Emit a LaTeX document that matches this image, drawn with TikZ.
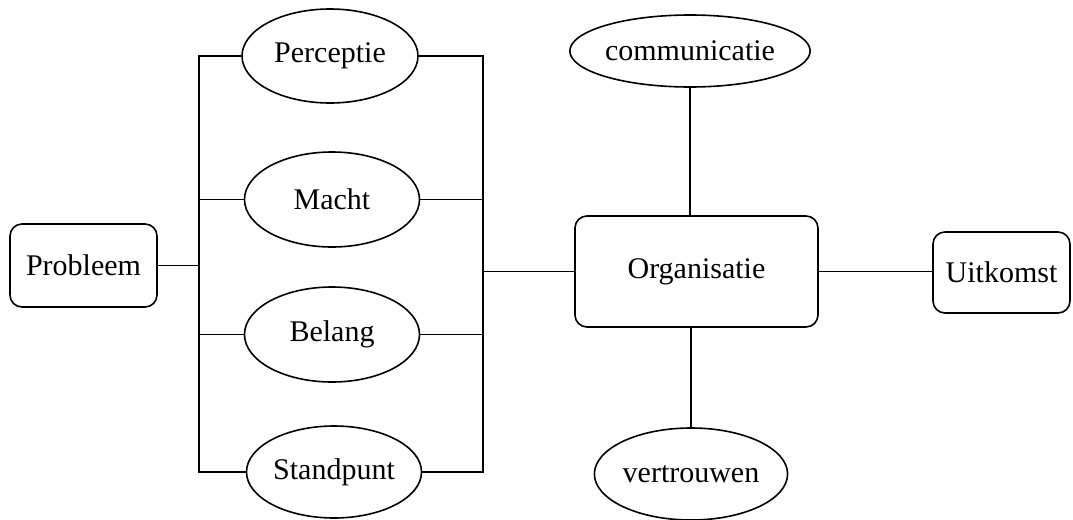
\documentclass[tikz,border=0pt]{standalone}
\usepackage{fontspec}
\setmainfont{Liberation Serif}
\usetikzlibrary{shapes.geometric}

\begin{document}
\begin{tikzpicture}[x=0.5pt, y=-0.5pt, line width=0.8pt,
    box/.style={draw, rounded corners=6pt, inner sep=0pt},
    factor/.style={draw, ellipse, inner sep=0pt},
    every node/.style={font=\fontsize{15}{18}\selectfont}]
            \useasboundingbox (0,0) rectangle (1073,520);

            % left side: the problem and its four factors
            \node[box, minimum width=73.5pt, minimum height=41.5pt] (prob) at (83.5,265.5) {Probleem};
            \node[factor, minimum width=88pt, minimum height=47pt] (perc) at (330,56) {Perceptie};
            \node[factor, minimum width=87.5pt, minimum height=47.5pt] (macht) at (332,199.5) {Macht};
            \node[factor, minimum width=87.5pt, minimum height=47.5pt] (belang) at (332,334.5) {Belang};
            \node[factor, minimum width=87.5pt, minimum height=46pt] (stand) at (334,472) {Standpunt};

            % right side
            \node[box, minimum width=121.5pt, minimum height=55.5pt] (org) at (696.5,271.5) {Organisatie};
            \node[factor, minimum width=112.5pt, minimum height=36pt] (comm) at (690,51) {communicatie};
            \node[factor, minimum width=87.5pt, minimum height=46pt] (vert) at (691,474) {vertrouwen};
            \node[box, minimum width=68.5pt, minimum height=40.5pt] (uit) at (1001.5,272.5) {Uitkomst};

            % the two buses
            \coordinate (lbus) at (199,0);
            \coordinate (rbus) at (483,0);

            \draw (perc.west) -- (perc.west -| lbus) -- (stand.west -| lbus) -- (stand.west);
            \draw (macht.west) -- (macht.west -| lbus);
            \draw (belang.west) -- (belang.west -| lbus);
            \draw (prob.east) -- (prob.east -| lbus);

            \draw (perc.east) -- (perc.east -| rbus) -- (stand.east -| rbus) -- (stand.east);
            \draw (macht.east) -- (macht.east -| rbus);
            \draw (belang.east) -- (belang.east -| rbus);
            \draw (org.west) -- (org.west -| rbus);

            % links of the organisation
            \draw (comm.south) -- (comm.south |- org.north);
            \draw (vert.north) -- (vert.north |- org.south);
            \draw (org.east) -- (org.east -| uit.west);

        \end{tikzpicture}
\end{document}
